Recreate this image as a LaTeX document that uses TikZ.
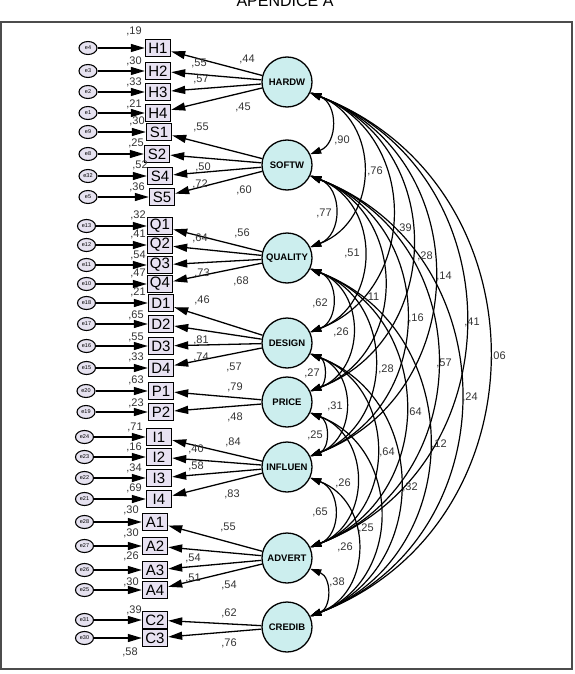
\documentclass[tikz,border=0pt]{standalone}
\usepackage{fontspec}
\setmainfont{Liberation Sans}
\usetikzlibrary{shapes.geometric,arrows.meta}

\definecolor{latfill}{RGB}{204,238,238}
\definecolor{itemfill}{RGB}{232,226,242}
\definecolor{errfill}{RGB}{230,226,240}

\begin{document}
\begin{tikzpicture}[
    x=1pt, y=-1pt,
    latent/.style={circle, draw, line width=1.3pt, fill=latfill, minimum size=50pt, inner sep=0pt, font=\fontsize{9.5}{10}\selectfont\bfseries},
    item/.style={rectangle, draw, line width=1.4pt, fill=itemfill, minimum width=25pt, minimum height=17pt, inner sep=0pt, font=\fontsize{15}{15}\selectfont},
    err/.style={ellipse, draw, line width=1.1pt, fill=errfill, minimum width=18pt, minimum height=13pt, inner sep=0pt, font=\fontsize{5.5}{6}\selectfont},
    val/.style={inner sep=0pt, font=\fontsize{11}{11}\selectfont, text=black!80},
    arrow/.style={-{Triangle[length=14pt, width=8pt]}, line width=1.3pt},
    cov/.style={{Triangle[length=11pt, width=7pt]}-{Triangle[length=11pt, width=7pt]}, line width=1.2pt, bend left=69, looseness=1.25},
]
    \useasboundingbox (0,0) rectangle (574,674);

    % Frame and title
    \node[font=\fontsize{16}{16}\selectfont, anchor=base] (title) at (285,7) {APENDICE A};
    \draw[black!70, line width=1.2pt] (1,22) rectangle (572,669);

    % Latent variables
    \node[latent] (hardw) at (287,82) {HARDW};
    \node[latent] (softw) at (287,165) {SOFTW};
    \node[latent] (quality) at (287,258) {QUALITY};
    \node[latent] (design) at (287,343) {DESIGN};
    \node[latent] (price) at (287,402) {PRICE};
    \node[latent] (influen) at (287,467) {INFLUEN};
    \node[latent] (advert) at (287,558) {ADVERT};
    \node[latent] (credib) at (287,627) {CREDIB};

    % Hardware
    \node[item] (h1) at (158,48) {H1};
    \node[item] (h2) at (158,71) {H2};
    \node[item] (h3) at (158,92) {H3};
    \node[item] (h4) at (158,113) {H4};
    \node[err] (e4) at (88,48) {e4};
    \node[err] (e3) at (88,71) {e3};
    \node[err] (e2) at (88,92) {e2};
    \node[err] (e1) at (88,113) {e1};
    \draw[arrow] (e4) -- (h1);
    \draw[arrow] (e3) -- (h2);
    \draw[arrow] (e2) -- (h3);
    \draw[arrow] (e1) -- (h4);
    \draw[arrow] (hardw) -- (h1);
    \draw[arrow] (hardw) -- (h2);
    \draw[arrow] (hardw) -- (h3);
    \draw[arrow] (hardw) -- (h4);
    \node[val] (r2h1) at (134,31) {,19};
    \node[val] (r2h2) at (134,61) {,30};
    \node[val] (r2h3) at (134,82) {,33};
    \node[val] (r2h4) at (134,104) {,21};
    \node[val] (ldh1) at (247,59) {,44};
    \node[val] (ldh2) at (199,63) {,55};
    \node[val] (ldh3) at (201,79) {,57};
    \node[val] (ldh4) at (243,107) {,45};

    % Software
    \node[item] (s1) at (159,132) {S1};
    \node[item] (s2) at (157,154) {S2};
    \node[item] (s4) at (160,176) {S4};
    \node[item] (s5) at (162,197) {S5};
    \node[err] (e9) at (88,132) {e9};
    \node[err] (e8) at (88,154) {e8};
    \node[err] (e32) at (88,176) {e32};
    \node[err] (e5) at (88,197) {e5};
    \draw[arrow] (e9) -- (s1);
    \draw[arrow] (e8) -- (s2);
    \draw[arrow] (e32) -- (s4);
    \draw[arrow] (e5) -- (s5);
    \draw[arrow] (softw) -- (s1);
    \draw[arrow] (softw) -- (s2);
    \draw[arrow] (softw) -- (s4);
    \draw[arrow] (softw) -- (s5);
    \node[val] (r2s1) at (137,121) {,30};
    \node[val] (r2s2) at (136,143) {,25};
    \node[val] (r2s4) at (140,165) {,52};
    \node[val] (r2s5) at (137,187) {,36};
    \node[val] (lds1) at (201,127) {,55};
    \node[val] (lds4) at (203,167) {,50};
    \node[val] (lds5) at (200,184) {,72};
    \node[val] (lds2) at (244,190) {,60};

    % Quality
    \node[item] (q1) at (160,226) {Q1};
    \node[item] (q2) at (160,245) {Q2};
    \node[item] (q3) at (160,265) {Q3};
    \node[item] (q4) at (160,284) {Q4};
    \node[err] (e13) at (86.5,226) {e13};
    \node[err] (e12) at (86.5,245) {e12};
    \node[err] (e11) at (86.5,265) {e11};
    \node[err] (e10) at (86.5,284) {e10};
    \draw[arrow] (e13) -- (q1);
    \draw[arrow] (e12) -- (q2);
    \draw[arrow] (e11) -- (q3);
    \draw[arrow] (e10) -- (q4);
    \draw[arrow] (quality) -- (q1);
    \draw[arrow] (quality) -- (q2);
    \draw[arrow] (quality) -- (q3);
    \draw[arrow] (quality) -- (q4);
    \node[val] (r2q1) at (138,215) {,32};
    \node[val] (r2q2) at (138,234) {,41};
    \node[val] (r2q3) at (138,255) {,54};
    \node[val] (r2q4) at (138,273) {,47};
    \node[val] (ldq1) at (242,233) {,56};
    \node[val] (ldq2) at (200,238) {,64};
    \node[val] (ldq4) at (202,273) {,73};
    \node[val] (ldq3) at (241,281) {,68};

    % Design
    \node[item] (d1) at (161,303) {D1};
    \node[item] (d2) at (161,324) {D2};
    \node[item] (d3) at (161,346) {D3};
    \node[item] (d4) at (161,368) {D4};
    \node[err] (e18) at (86.5,303) {e18};
    \node[err] (e17) at (86.5,324) {e17};
    \node[err] (e16) at (86.5,346) {e16};
    \node[err] (e15) at (86.5,368) {e15};
    \draw[arrow] (e18) -- (d1);
    \draw[arrow] (e17) -- (d2);
    \draw[arrow] (e16) -- (d3);
    \draw[arrow] (e15) -- (d4);
    \draw[arrow] (design) -- (d1);
    \draw[arrow] (design) -- (d2);
    \draw[arrow] (design) -- (d3);
    \draw[arrow] (design) -- (d4);
    \node[val] (r2d1) at (138,292) {,21};
    \node[val] (r2d2) at (136,315) {,65};
    \node[val] (r2d3) at (136,337) {,55};
    \node[val] (r2d4) at (136,357) {,33};
    \node[val] (ldd1) at (202,300) {,46};
    \node[val] (ldd3) at (201,340) {,81};
    \node[val] (ldd4) at (201,357) {,74};
    \node[val] (ldd2) at (234,367) {,57};

    % Price
    \node[item] (p1) at (161,391) {P1};
    \node[item] (p2) at (161,412) {P2};
    \node[err] (e20) at (86,391) {e20};
    \node[err] (e19) at (86,412) {e19};
    \draw[arrow] (e20) -- (p1);
    \draw[arrow] (e19) -- (p2);
    \draw[arrow] (price) -- (p1);
    \draw[arrow] (price) -- (p2);
    \node[val] (r2p1) at (136,380) {,63};
    \node[val] (r2p2) at (136,403) {,23};
    \node[val] (ldp1) at (235,387) {,79};
    \node[val] (ldp2) at (235,417) {,48};

    % Influence
    \node[item] (i1) at (159,437) {I1};
    \node[item] (i2) at (159,457) {I2};
    \node[item] (i3) at (159,478) {I3};
    \node[item] (i4) at (159,499) {I4};
    \node[err] (e24) at (84.5,437) {e24};
    \node[err] (e23) at (84.5,457) {e23};
    \node[err] (e22) at (84.5,478) {e22};
    \node[err] (e21) at (84.5,499) {e21};
    \draw[arrow] (e24) -- (i1);
    \draw[arrow] (e23) -- (i2);
    \draw[arrow] (e22) -- (i3);
    \draw[arrow] (e21) -- (i4);
    \draw[arrow] (influen) -- (i1);
    \draw[arrow] (influen) -- (i2);
    \draw[arrow] (influen) -- (i3);
    \draw[arrow] (influen) -- (i4);
    \node[val] (r2i1) at (135,427) {,71};
    \node[val] (r2i2) at (134,447) {,16};
    \node[val] (r2i3) at (134,468) {,34};
    \node[val] (r2i4) at (134,488) {,69};
    \node[val] (ldi1) at (233,442) {,84};
    \node[val] (ldi2) at (196,449) {,40};
    \node[val] (ldi3) at (196,466) {,58};
    \node[val] (ldi4) at (232,494) {,83};

    % Advertising
    \node[item] (a1) at (155,522) {A1};
    \node[item] (a2) at (155,546) {A2};
    \node[item] (a3) at (155,570) {A3};
    \node[item] (a4) at (155,590) {A4};
    \node[err] (e28) at (84.5,522) {e28};
    \node[err] (e27) at (84.5,546) {e27};
    \node[err] (e26) at (84.5,570) {e26};
    \node[err] (e25) at (84.5,590) {e25};
    \draw[arrow] (e28) -- (a1);
    \draw[arrow] (e27) -- (a2);
    \draw[arrow] (e26) -- (a3);
    \draw[arrow] (e25) -- (a4);
    \draw[arrow] (advert) -- (a1);
    \draw[arrow] (advert) -- (a2);
    \draw[arrow] (advert) -- (a3);
    \draw[arrow] (advert) -- (a4);
    \node[val] (r2a1) at (131,510) {,30};
    \node[val] (r2a2) at (131,533) {,30};
    \node[val] (r2a3) at (131,556) {,26};
    \node[val] (r2a4) at (131,582) {,30};
    \node[val] (lda1) at (228,527) {,55};
    \node[val] (lda3) at (193,558) {,54};
    \node[val] (lda4) at (193,578) {,51};
    \node[val] (lda2) at (229,585) {,54};

    % Credibility
    \node[item] (c2) at (155,620) {C2};
    \node[item] (c3) at (155,638) {C3};
    \node[err] (e31) at (84.5,620) {e31};
    \node[err] (e30) at (84.5,638) {e30};
    \draw[arrow] (e31) -- (c2);
    \draw[arrow] (e30) -- (c3);
    \draw[arrow] (credib) -- (c2);
    \draw[arrow] (credib) -- (c3);
    \node[val] (r2c2) at (134,610) {,39};
    \node[val] (r2c3) at (130,652) {,58};
    \node[val] (ldc2) at (229,613) {,62};
    \node[val] (ldc3) at (229,643) {,76};

    % Covariances
    \draw[cov] (hardw.-25) to (softw.25);
    \draw[cov] (hardw.-25) to (quality.25);
    \draw[cov] (hardw.-25) to (design.25);
    \draw[cov] (hardw.-25) to (price.25);
    \draw[cov] (hardw.-25) to (influen.25);
    \draw[cov] (hardw.-25) to (advert.25);
    \draw[cov] (hardw.-25) to (credib.25);
    \draw[cov] (softw.-25) to (quality.25);
    \draw[cov] (softw.-25) to (design.25);
    \draw[cov] (softw.-25) to (price.25);
    \draw[cov] (softw.-25) to (influen.25);
    \draw[cov] (softw.-25) to (advert.25);
    \draw[cov] (softw.-25) to (credib.25);
    \draw[cov] (quality.-25) to (design.25);
    \draw[cov] (quality.-25) to (price.25);
    \draw[cov] (quality.-25) to (influen.25);
    \draw[cov] (quality.-25) to (advert.25);
    \draw[cov] (quality.-25) to (credib.25);
    \draw[cov] (design.-25) to (price.25);
    \draw[cov] (design.-25) to (influen.25);
    \draw[cov] (design.-25) to (advert.25);
    \draw[cov] (design.-25) to (credib.25);
    \draw[cov] (price.-25) to (influen.25);
    \draw[cov] (price.-25) to (advert.25);
    \draw[cov] (price.-25) to (credib.25);
    \draw[cov] (influen.-25) to (advert.25);
    \draw[cov] (influen.-25) to (credib.25);
    \draw[cov] (advert.-25) to (credib.25);

    % Correlation values
    \node[val] (hs) at (342,140) {,90};
    \node[val] (hq) at (375,171) {,76};
    \node[val] (sq) at (324,213) {,77};
    \node[val] (hd) at (404,228) {,39};
    \node[val] (sd) at (352,253) {,51};
    \node[val] (hp) at (425,256) {,28};
    \node[val] (hi) at (444,276) {,14};
    \node[val] (sp) at (372,297) {,11};
    \node[val] (qd) at (320,303) {,62};
    \node[val] (si) at (416,318) {,16};
    \node[val] (ha) at (472,322) {,41};
    \node[val] (qp) at (341,332) {,26};
    \node[val] (hc) at (498,356) {,06};
    \node[val] (sa) at (444,363) {,57};
    \node[val] (qi) at (386,369) {,28};
    \node[val] (dp) at (312,373) {,27};
    \node[val] (sc) at (470,397) {,24};
    \node[val] (di) at (335,406) {,31};
    \node[val] (qa) at (414,412) {,64};
    \node[val] (pi) at (315,435) {,25};
    \node[val] (qc) at (439,444) {,12};
    \node[val] (da) at (387,452) {,64};
    \node[val] (pa) at (343,483) {,26};
    \node[val] (dc) at (410,487) {,32};
    \node[val] (ia) at (320,512) {,65};
    \node[val] (pc) at (366,528) {,25};
    \node[val] (ic) at (345,547) {,26};
    \node[val] (ac) at (337,582) {,38};
\end{tikzpicture}
\end{document}
